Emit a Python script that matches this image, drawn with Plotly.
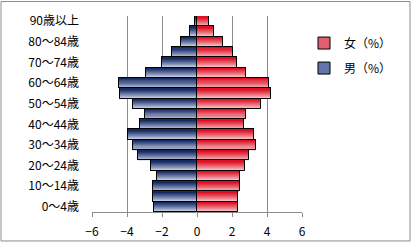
import plotly.graph_objects as go

categories = ["0～4歳", "5～9歳", "10～14歳", "15～19歳", "20～24歳", "25～29歳",
              "30～34歳", "35～39歳", "40～44歳", "45～49歳", "50～54歳", "55～59歳",
              "60～64歳", "65～69歳", "70～74歳", "75～79歳", "80～84歳", "85～89歳",
              "90歳以上"]
female_pct = [2.32, 2.32, 2.44, 2.44, 2.74, 2.95, 3.35, 3.27, 2.66, 2.78,
              3.66, 4.21, 4.09, 2.78, 2.26, 2.03, 1.46, 0.99, 0.66]
male_pct = [2.48, 2.51, 2.51, 2.29, 2.63, 3.39, 3.66, 3.94, 3.24, 2.95,
            3.66, 4.42, 4.48, 2.90, 2.00, 1.43, 0.91, 0.42, 0.14]
x_ticks = [-6, -4, -2, 0, 2, 4, 6]
tick_labels = categories[::2]
female_name = "女（%）"
male_name = "男（%）"

FONT = "Noto Sans CJK JP, sans-serif"
N = 10

def mix(c1, c2, t):
    return "rgb(%d,%d,%d)" % tuple(round(a + (b - a) * t) for a, b in zip(c1, c2))

fig = go.Figure()

series = [
    (female_name, female_pct, (220, 16, 34), (250, 222, 226), "rgb(226,96,110)"),
    (male_name, [-v for v in male_pct], (22, 42, 100), (222, 230, 246), "rgb(96,118,172)"),
]

for name, vals, dark, light, mid in series:
    fig.add_trace(go.Bar(y=categories, x=vals, orientation="h", name=name,
                         marker=dict(color=mid, line=dict(color="black", width=1)),
                         width=1, offset=-0.5, legendgroup=name, showlegend=True,
                         hoverinfo="skip"))
    w = 1.0 / N
    for k in range(N):
        t = k / (N - 1)
        fig.add_trace(go.Bar(y=categories, x=vals, orientation="h",
                             marker=dict(color=mix(light, dark, t ** 0.8), line=dict(width=0)),
                             width=w, offset=-0.5 + k * w, showlegend=False,
                             legendgroup=name, hoverinfo="skip"))
    fig.add_trace(go.Bar(y=categories, x=vals, orientation="h",
                         marker=dict(color="rgba(0,0,0,0)", line=dict(color="black", width=1)),
                         width=1, offset=-0.5, showlegend=False, legendgroup=name,
                         hoverinfo="skip"))

L, R, T, B = 92, 109, 16, 32
PW, PH = 411 - L - R, 251 - T - B

fig.update_layout(
    width=411, height=251,
    margin=dict(l=L, r=R, t=T, b=B),
    barmode="overlay", bargap=0,
    plot_bgcolor="white", paper_bgcolor="white",
    font=dict(family=FONT, size=11, color="black"),
    legend=dict(x=(304 - L) / PW, y=(219 - 29) / PH, xanchor="left", yanchor="top",
                font=dict(size=12), traceorder="grouped", tracegroupgap=6,
                itemwidth=30, bgcolor="rgba(0,0,0,0)"),
    xaxis=dict(range=[-6, 6], tickvals=x_ticks, showgrid=True, gridcolor="#8c8c8c",
               gridwidth=1, zeroline=True, zerolinecolor="#8c8c8c", zerolinewidth=1,
               showline=True, linecolor="#8c8c8c", ticks="outside", ticklen=4,
               tickcolor="#8c8c8c", tickfont=dict(size=12), ticklabelstandoff=5),
    yaxis=dict(categoryorder="array", categoryarray=categories, tickmode="array",
               tickvals=tick_labels, ticktext=tick_labels, showgrid=False,
               showline=False, ticks="", tickfont=dict(size=12), ticklabelstandoff=12,
               range=[-0.5, len(categories) - 0.5]),
    shapes=[dict(type="rect", xref="paper", yref="paper",
                 x0=(1 - L) / PW, x1=(410 - L) / PW,
                 y0=(219 - 249) / PH, y1=(219 - 1) / PH,
                 line=dict(color="#8c8c8c", width=1), fillcolor="rgba(0,0,0,0)",
                 layer="below")],
)

fig.write_html("out.html")
